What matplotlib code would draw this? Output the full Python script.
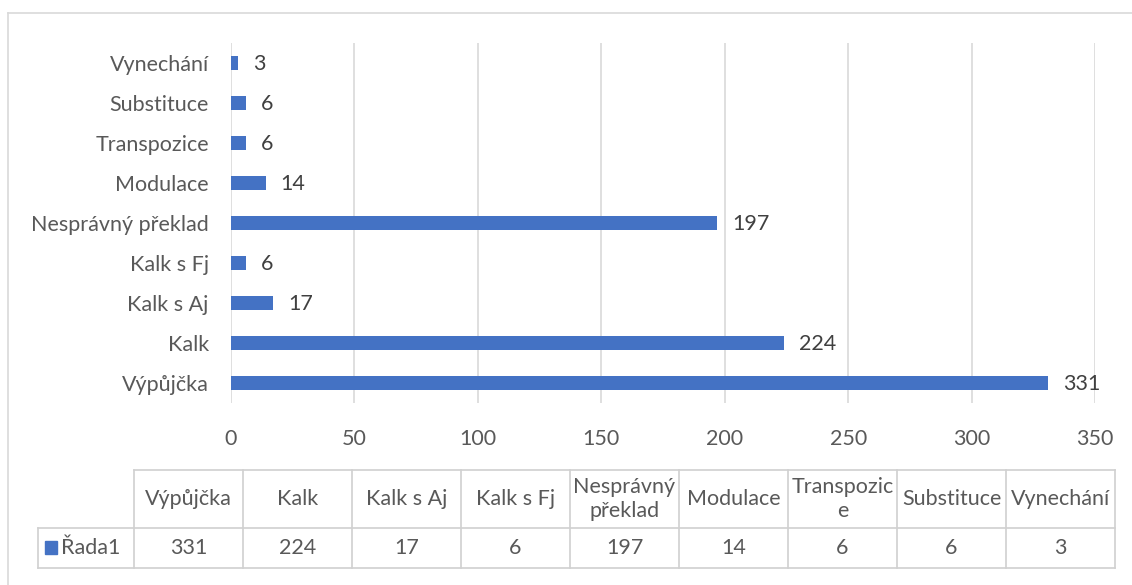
import numpy as np
import matplotlib.pyplot as plt
from matplotlib.lines import Line2D
from matplotlib.patches import Rectangle

plt.rcParams['font.family'] = ['Lato', 'DejaVu Sans']

# data
categories = ['Výpůjčka', 'Kalk', 'Kalk s Aj', 'Kalk s Fj', 'Nesprávný překlad',
              'Modulace', 'Transpozice', 'Substituce', 'Vynechání']
values = [331, 224, 17, 6, 197, 14, 6, 6, 3]
table_headers = ['Výpůjčka', 'Kalk', 'Kalk s Aj', 'Kalk s Fj', 'Nesprávný\npřeklad',
                 'Modulace', 'Transpozic\ne', 'Substituce', 'Vynechání']
series_name = 'Řada1'
x_ticks = [0, 50, 100, 150, 200, 250, 300, 350]

W, H = 1132, 585
bar_color = '#4472C4'
txt_color = '#595959'
grid_color = '#D9D9D9'
fs = 15.5

fig = plt.figure(figsize=(W / 100, H / 100), dpi=100)

def fx(px):
    return px / W

def fy(py):
    return 1 - py / H

# outer chart frame
fig.add_artist(Line2D([fx(8), 1], [fy(13), fy(13)], color=grid_color, lw=1.2))
fig.add_artist(Line2D([fx(8), fx(8)], [fy(13), 0], color=grid_color, lw=1.2))

# bar chart
ax = fig.add_axes([fx(231), fy(403), fx(1095) - fx(231), fy(43) - fy(403)])
y = np.arange(len(categories))
ax.barh(y, values, height=0.35, color=bar_color, zorder=3)
for yi, v in zip(y, values):
    ax.annotate(str(v), (v, yi), xytext=(15, -1), textcoords='offset pixels',
                va='center', ha='left', fontsize=fs, color='#404040')
ax.set_xlim(0, 350)
ax.set_ylim(-0.5, len(categories) - 0.5)
ax.set_xticks(x_ticks)
ax.set_yticks(y)
ax.set_yticklabels(categories)
ax.tick_params(length=0, labelsize=fs, labelcolor=txt_color)
ax.tick_params(axis='x', pad=18.5)
ax.tick_params(axis='y', pad=16)
ax.grid(axis='x', color=grid_color, lw=1.2, zorder=0)
for s in ax.spines.values():
    s.set_visible(False)

# data table
tax = fig.add_axes([fx(38), fy(568), fx(1113) - fx(38), fy(470) - fy(568)])
tax.set_xlim(38, 1113)
tax.set_ylim(568, 470)
tax.axis('off')
left0, col_w = 134, 109
y_top, y_mid, y_bot = 470, 528, 568
n = len(categories)
edges = [left0 + i * col_w for i in range(n + 1)]
lc = '#D0D0D0'
tax.plot([edges[0], edges[-1]], [y_top, y_top], color=lc, lw=1.2, clip_on=False)
tax.plot([38, edges[-1]], [y_mid, y_mid], color=lc, lw=1.2, clip_on=False)
tax.plot([38, edges[-1]], [y_bot, y_bot], color=lc, lw=1.2, clip_on=False)
tax.plot([38, 38], [y_mid, y_bot], color=lc, lw=1.2, clip_on=False)
for e in edges:
    tax.plot([e, e], [y_top, y_bot], color=lc, lw=1.2, clip_on=False)
for i in range(n):
    cx = (edges[i] + edges[i + 1]) / 2
    tax.text(cx, (y_top + y_mid) / 2, table_headers[i], ha='center', va='center',
             fontsize=fs, color=txt_color, linespacing=1.3)
    tax.text(cx, (y_mid + y_bot) / 2, str(values[i]), ha='center', va='center',
             fontsize=fs, color=txt_color)
tax.add_patch(Rectangle((45, 541), 12, 13, color=bar_color, clip_on=False))
tax.text(61, (y_mid + y_bot) / 2, series_name, ha='left', va='center',
         fontsize=fs, color=txt_color)

fig.savefig('out.png', dpi=100)
